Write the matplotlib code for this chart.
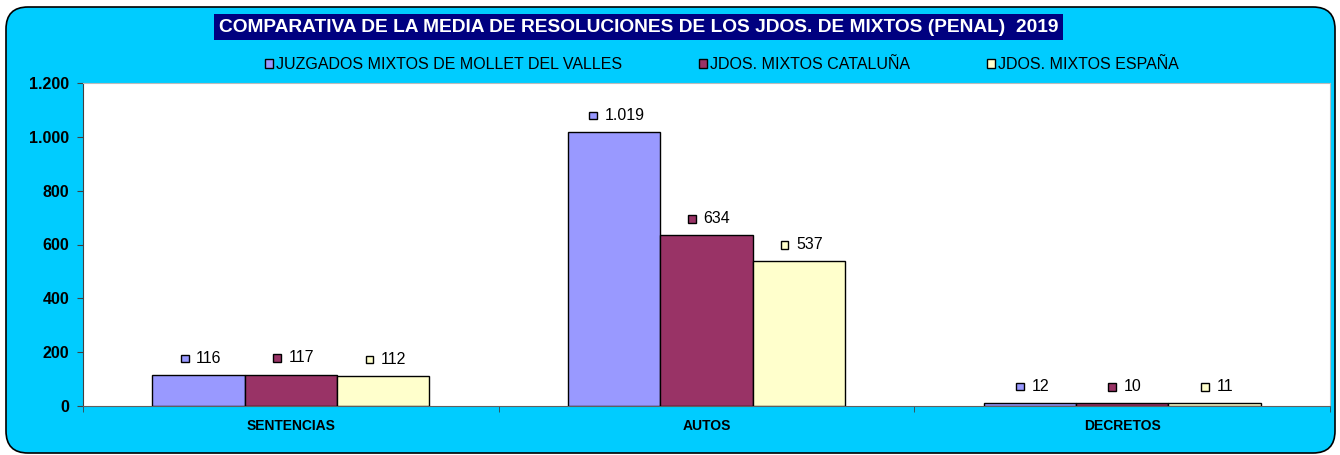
import matplotlib
matplotlib.use("AGG")

import matplotlib.pyplot as plt
import matplotlib.ticker as mticker
import numpy as np
from matplotlib.patches import FancyBboxPatch, Patch, Rectangle
from matplotlib.offsetbox import AnnotationBbox, HPacker, TextArea, DrawingArea

plt.rcParams["font.family"] = ["Liberation Sans", "DejaVu Sans"]

# ── Data ────────────────────────────────────────────────────────────────────
categories = ["SENTENCIAS", "AUTOS", "DECRETOS"]
series_names = [
    "JUZGADOS MIXTOS DE MOLLET DEL VALLES",
    "JDOS. MIXTOS CATALUÑA",
    "JDOS. MIXTOS ESPAÑA",
]
mollet = [116, 1019, 12]
cataluna = [117, 634, 10]
espana = [112, 537, 11]

title = "COMPARATIVA DE LA MEDIA DE RESOLUCIONES DE LOS JDOS. DE MIXTOS (PENAL)  2019"

# ── Palette ─────────────────────────────────────────────────────────────────
PANEL = "#00CCFF"
TITLE_BG = "#000080"
COLORS = ["#9999FF", "#993366", "#FFFFCC"]


def thousands(v, pos=None):
    return f"{int(v):,}".replace(",", ".")


def value_label(ax, x, y, val, color):
    """Little legend key + number sitting above a bar."""
    key = DrawingArea(6, 6, 0, 0)
    key.add_artist(Rectangle((0, 0), 5.5, 5.5, facecolor=color, edgecolor="black", lw=1.0))
    txt = TextArea(thousands(val), textprops=dict(fontsize=11.5, color="black"))
    box = HPacker(children=[key, txt], align="center", pad=0, sep=5)
    ab = AnnotationBbox(box, (x, y), xybox=(2, 12), xycoords="data",
                        boxcoords="offset points", frameon=False,
                        box_alignment=(0.5, 0.5), annotation_clip=False)
    ax.add_artist(ab)


fig = plt.figure(figsize=(13.4, 4.55), dpi=100, facecolor="white")

# rounded cyan panel behind everything
bg = fig.add_axes([0, 0, 1, 1], zorder=0)
bg.set_xlim(0, 1340)
bg.set_ylim(455, 0)
bg.axis("off")
bg.add_patch(FancyBboxPatch((6, 7), 1329, 446, boxstyle="round,pad=0,rounding_size=22",
                            facecolor=PANEL, edgecolor="black", lw=1.2))

# title in dark box
fig.text(638.5 / 1340, 1 - 27 / 455, title, ha="center", va="center",
         fontsize=13.8, fontweight="bold", color="white",
         bbox=dict(boxstyle="square,pad=0.26", facecolor=TITLE_BG, edgecolor="none"))

ax = fig.add_axes([83 / 1340, 49 / 455, 1247 / 1340, 323 / 455], zorder=1)
ax.set_facecolor("white")

x = np.arange(len(categories))
w = 0.222
for i, (vals, col) in enumerate(zip([mollet, cataluna, espana], COLORS)):
    xs = x + (i - 1) * w
    ax.bar(xs, vals, width=w, color=col, edgecolor="black", linewidth=1.0, zorder=3)
    for xi, v in zip(xs, vals):
        value_label(ax, xi, v, v, col)

ax.set_xlim(-0.5, len(categories) - 0.5)
ax.set_ylim(0, 1200)
ax.yaxis.set_major_locator(mticker.MultipleLocator(200))
ax.yaxis.set_major_formatter(mticker.FuncFormatter(thousands))
ax.set_xticks(x)
ax.set_xticklabels(categories)
ax.set_xticks(np.arange(len(categories) + 1) - 0.5, minor=True)
ax.tick_params(axis="x", which="major", length=0, pad=9, labelsize=10)
ax.tick_params(axis="x", which="minor", length=4, direction="out", color="#404040")
ax.tick_params(axis="y", length=4, direction="out", color="#404040", labelsize=11.5, pad=6)
for lab in ax.get_xticklabels() + ax.get_yticklabels():
    lab.set_fontweight("bold")

ax.spines["left"].set_color("#404040")
ax.spines["bottom"].set_color("#606060")
ax.spines["top"].set_color("#BBBBBB")
ax.spines["right"].set_color("#BBBBBB")

handles = [Patch(facecolor=c, edgecolor="black", lw=1.0) for c in COLORS]
fig.legend(handles, series_names, loc="center", bbox_to_anchor=(722 / 1340, 1 - 65 / 455),
           ncol=3, frameon=False, fontsize=11.5, handlelength=0.5, handleheight=0.5,
           handletextpad=0.2, columnspacing=4.8)

fig.savefig("out.png", dpi=100, facecolor="white")
